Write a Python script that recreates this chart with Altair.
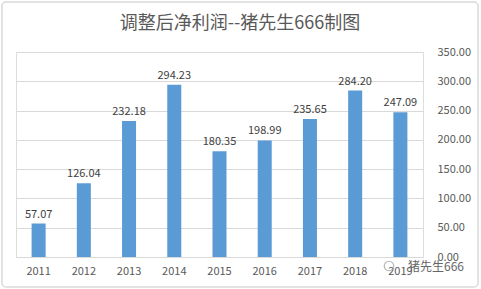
import altair as alt
import pandas as pd

years = ["2011", "2012", "2013", "2014", "2015", "2016", "2017", "2018", "2019"]
values = [57.07, 126.04, 232.18, 294.23, 180.35, 198.99, 235.65, 284.20, 247.09]
labels = ["57.07", "126.04", "232.18", "294.23", "180.35", "198.99", "235.65", "284.20", "247.09"]
y_ticks = [0, 50, 100, 150, 200, 250, 300, 350]
title_text = "调整后净利润--猪先生666制图"
watermark = "猪先生666"

df = pd.DataFrame({"year": years, "value": values, "label": labels})

font = "Noto Sans CJK SC"

x_enc = alt.X("year:N", sort=years,
              scale=alt.Scale(paddingInner=0.69, paddingOuter=0.345),
              axis=alt.Axis(title=None, labelAngle=0, ticks=False, domain=True,
                            domainColor="#d9d9d9", labelColor="#595959",
                            labelFontSize=11, labelPadding=8, labelFont=font))
y_enc = alt.Y("value:Q", scale=alt.Scale(domain=[0, 350], nice=False),
              axis=alt.Axis(title=None, orient="right", values=y_ticks, format=".2f",
                            ticks=False, domain=False, gridColor="#d9d9d9",
                            labelColor="#595959", labelFontSize=11, labelPadding=14,
                            labelFont=font, labelOverlap=False))

border = alt.Chart(pd.DataFrame({"a": [0]})).mark_rect(
    fill="transparent", stroke="#d9d9d9", strokeWidth=1.5, cornerRadius=4, clip=False
).encode(x=alt.value(-14), x2=alt.value(462), y=alt.value(-50), y2=alt.value(235))

base = alt.Chart(df).encode(x=x_enc, y=y_enc)
bars = base.mark_bar(color="#5B9BD5")
text = base.mark_text(dy=-9, fontSize=11, color="#404040", font=font).encode(text="label:N")

title = alt.Chart(pd.DataFrame({"t": [title_text]})).mark_text(
    fontSize=18, color="#595959", font=font, clip=False, align="center", baseline="middle"
).encode(x=alt.value(224), y=alt.value(-28), text="t:N")

icon = alt.Chart(pd.DataFrame({"a": [0]})).mark_point(
    shape="circle", size=90, color="#9a9a9a", strokeWidth=1.2, clip=False
).encode(x=alt.value(373), y=alt.value(214))

wm = alt.Chart(pd.DataFrame({"t": [watermark]})).mark_text(
    fontSize=12, color="#666666", align="left", baseline="middle", font=font, clip=False
).encode(x=alt.value(392), y=alt.value(215), text="t:N")

chart = alt.layer(border, bars, text, title, icon, wm).properties(
    width=407, height=205,
    autosize=alt.AutoSizeParams(type="none"),
    padding={"left": 16, "top": 52, "right": 58, "bottom": 32},
).configure_view(stroke=None).configure(background="white")

chart.save("out.html", embed_options={"renderer": "svg", "actions": False})
